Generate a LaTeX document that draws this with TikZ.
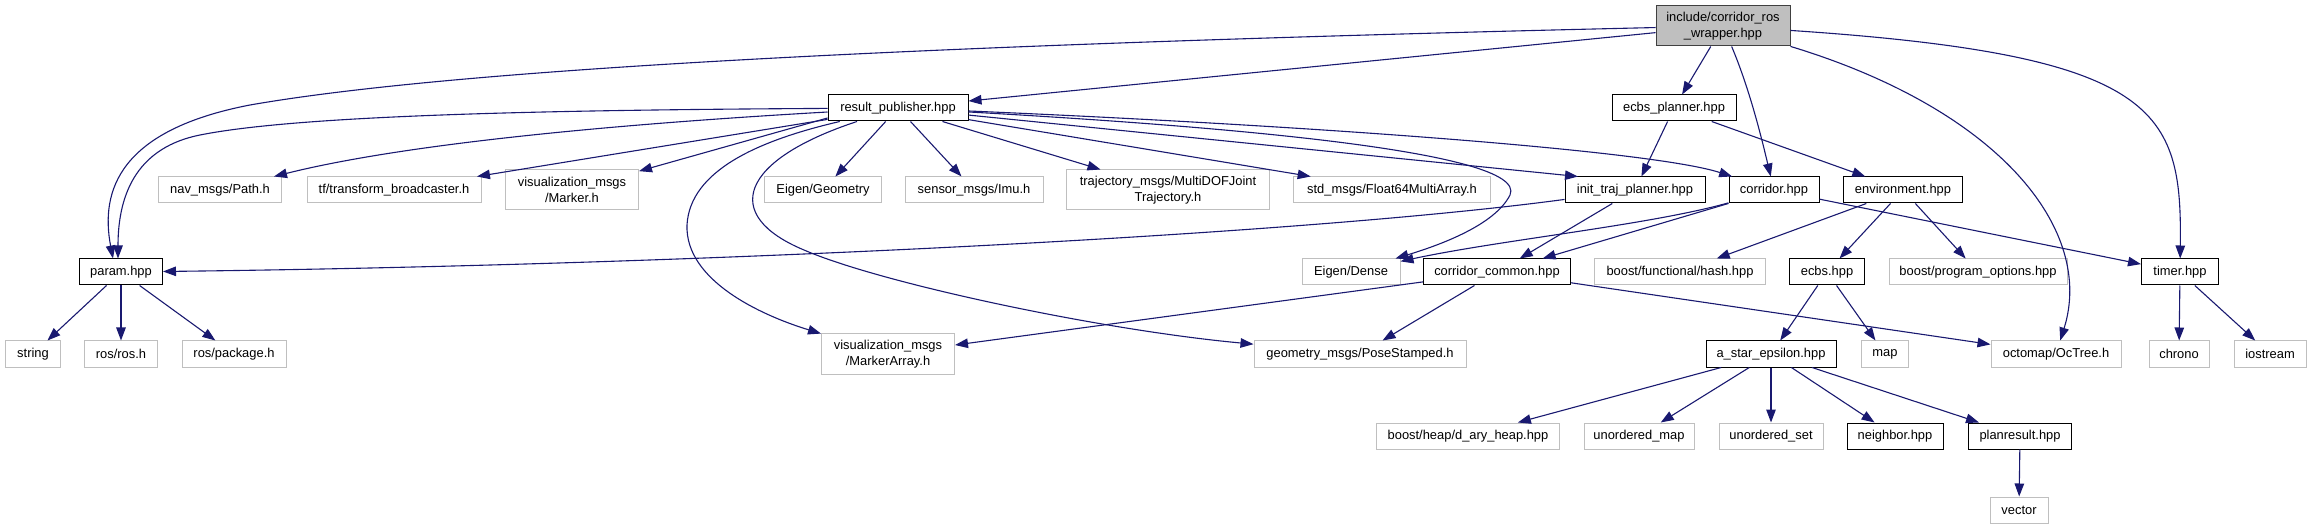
\documentclass[tikz,border=0pt]{standalone}
\usepackage{fontspec}
\setmainfont{Liberation Sans}
\usetikzlibrary{arrows.meta}
\definecolor{edgec}{HTML}{191970}
\definecolor{grayb}{HTML}{BFBFBF}
\definecolor{topb}{HTML}{404040}
\tikzset{
  basebox/.style={draw, line width=1pt, inner sep=0pt, align=center,
    font=\fontsize{12.9}{15.5}\selectfont, minimum height=26pt},
  docbox/.style={basebox, draw=black},
  extbox/.style={basebox, draw=grayb},
  topbox/.style={basebox, draw=topb, fill=grayb},
  conn/.style={draw=edgec, line width=1.1pt, -{Triangle[length=13pt,width=9.5pt]}}
}
\begin{document}
\begin{tikzpicture}[x=1pt,y=-1pt]
\useasboundingbox (0,0) rectangle (2311,529);
% row 1
\node[topbox, minimum width=134pt, minimum height=40pt] (T) at (1723,26) {include/corridor\_ros\\\_wrapper.hpp};
% row 2
\node[docbox, minimum width=140pt] (R) at (898,108) {result\_publisher.hpp};
\node[docbox, minimum width=124pt] (E) at (1674,108) {ecbs\_planner.hpp};
% row 3
\node[extbox, minimum width=123pt] (nav) at (220,190) {nav\_msgs/Path.h};
\node[extbox, minimum width=174pt] (tf) at (394,190) {tf/transform\_broadcaster.h};
\node[extbox, minimum width=133pt, minimum height=40pt] (vmk) at (572,190) {visualization\_msgs\\/Marker.h};
\node[extbox, minimum width=117pt] (eg) at (823,190) {Eigen/Geometry};
\node[extbox, minimum width=138pt] (imu) at (974,190) {sensor\_msgs/Imu.h};
\node[extbox, minimum width=203pt, minimum height=40pt] (traj) at (1168,190) {trajectory\_msgs/MultiDOFJoint\\Trajectory.h};
\node[extbox, minimum width=197pt] (std) at (1392,190) {std\_msgs/Float64MultiArray.h};
\node[docbox, minimum width=140pt] (I) at (1635,190) {init\_traj\_planner.hpp};
\node[docbox, minimum width=90pt] (C) at (1774,190) {corridor.hpp};
\node[docbox, minimum width=119pt] (Env) at (1903,190) {environment.hpp};
% row 4
\node[docbox, minimum width=83pt] (param) at (121,272) {param.hpp};
\node[extbox, minimum width=98pt] (ed) at (1351,272) {Eigen/Dense};
\node[docbox, minimum width=147pt] (CC) at (1497,272) {corridor\_common.hpp};
\node[extbox, minimum width=171pt] (bfh) at (1680,272) {boost/functional/hash.hpp};
\node[docbox, minimum width=75pt] (ecbs) at (1827,272) {ecbs.hpp};
\node[extbox, minimum width=178pt] (bpo) at (1978,272) {boost/program\_options.hpp};
\node[docbox, minimum width=77pt] (timer) at (2180,272) {timer.hpp};
% row 5
\node[extbox, minimum width=55pt] (string) at (33,354) {string};
\node[extbox, minimum width=73pt] (rosros) at (121,354) {ros/ros.h};
\node[extbox, minimum width=104pt] (rospkg) at (234,354) {ros/package.h};
\node[extbox, minimum width=133pt, minimum height=40pt] (vma) at (888,354) {visualization\_msgs\\/MarkerArray.h};
\node[extbox, minimum width=212pt] (pose) at (1360,354) {geometry\_msgs/PoseStamped.h};
\node[docbox, minimum width=130pt] (astar) at (1771,354) {a\_star\_epsilon.hpp};
\node[extbox, minimum width=47pt] (map) at (1885,354) {map};
\node[extbox, minimum width=130pt] (oct) at (2056,354) {octomap/OcTree.h};
\node[extbox, minimum width=60pt] (chrono) at (2179,354) {chrono};
\node[extbox, minimum width=72pt] (iostream) at (2270,354) {iostream};
% row 6
\node[extbox, minimum width=183pt] (heap) at (1468,436) {boost/heap/d\_ary\_heap.hpp};
\node[extbox, minimum width=110pt] (umap) at (1639,436) {unordered\_map};
\node[extbox, minimum width=104pt] (uset) at (1771,436) {unordered\_set};
\node[docbox, minimum width=96pt] (nb) at (1895,436) {neighbor.hpp};
\node[docbox, minimum width=103pt] (pr) at (2020,436) {planresult.hpp};
% row 7
\node[extbox, minimum width=58pt] (vector) at (2019,510) {vector};

% edges from the top file
\draw[conn] (T) .. controls (900,45) and (450,70) .. (250,105) .. controls (120,130) and (100,190) .. ([xshift=-8pt]param.north);
\draw[conn] (T) -- (R);
\draw[conn] (T) -- (E);
\draw[conn] (T) .. controls (1750,90) and (1762,140) .. (C);
\draw[conn] (T) .. controls (2000,110) and (2095,230) .. (oct);
\draw[conn] (T) .. controls (2160,55) and (2182,110) .. (timer);
% result_publisher
\draw[conn] (R) .. controls (550,110) and (300,115) .. (200,135) .. controls (140,147) and (118,190) .. ([xshift=-3pt]param.north);
\draw[conn] (R) .. controls (600,125) and (400,145) .. (nav);
\draw[conn] (R) -- (tf);
\draw[conn] ([yshift=-10pt]R.west) -- (vmk);
\draw[conn] (R) -- (eg);
\draw[conn] (R) -- (imu);
\draw[conn] (R) -- (traj);
\draw[conn] (R) -- (std);
\draw[conn] (R) -- ([xshift=-57pt]I.north);
\draw[conn] (R) .. controls (1300,125) and (1650,150) .. (C);
\draw[conn] (R) .. controls (1200,125) and (1530,150) .. (1510,195) .. controls (1495,225) and (1440,245) .. (ed);
\draw[conn] (R) .. controls (760,140) and (690,170) .. (687,225) .. controls (685,280) and (760,315) .. (vma);
\draw[conn] (R) .. controls (740,160) and (720,215) .. (804,250) .. controls (880,283) and (1100,330) .. (pose);
% ecbs_planner
\draw[conn] (E) -- (I);
\draw[conn] (E) -- (Env);
% init_traj_planner
\draw[conn] (I) .. controls (1300,235) and (700,265) .. (param);
\draw[conn] (I) -- (CC);
% corridor
\draw[conn] (C) .. controls (1650,225) and (1500,240) .. (ed);
\draw[conn] (C) -- (CC);
\draw[conn] (C) -- (timer);
% environment
\draw[conn] (Env) -- (bfh);
\draw[conn] (Env) -- (ecbs);
\draw[conn] (Env) -- (bpo);
% corridor_common
\draw[conn] (CC) -- (vma);
\draw[conn] (CC) -- (pose);
\draw[conn] (CC) -- (oct);
% param
\draw[conn] (param) -- (string);
\draw[conn] (param) -- (rosros);
\draw[conn] (param) -- (rospkg);
% ecbs
\draw[conn] (ecbs) -- (astar);
\draw[conn] (ecbs) -- (map);
% timer
\draw[conn] (timer) -- (chrono);
\draw[conn] (timer) -- (iostream);
% a_star_epsilon
\draw[conn] (astar) -- (heap);
\draw[conn] (astar) -- (umap);
\draw[conn] (astar) -- (uset);
\draw[conn] (astar) -- (nb);
\draw[conn] (astar) -- (pr);
% planresult
\draw[conn] (pr) -- (vector);
\end{tikzpicture}
\end{document}
